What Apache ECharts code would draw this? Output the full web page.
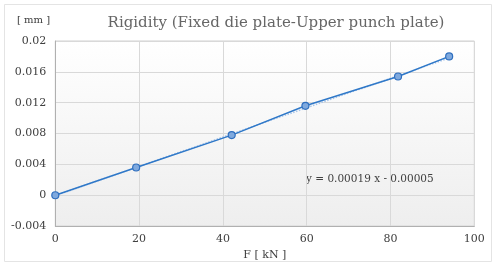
<!DOCTYPE html>
<html><head><meta charset="utf-8">
<script src="https://cdn.jsdelivr.net/npm/echarts@6/dist/echarts.min.js"></script>
<style>html,body{margin:0;padding:0;background:#fff}#c{width:496px;height:266px}</style>
</head><body><div id="c"></div>
<script>
const forceKN = [0, 19.3, 42.1, 59.7, 81.8, 94.0];
const dispMM = [0, 0.0036, 0.0078, 0.0116, 0.0154, 0.0180];
const trendX = [0, 94.0];
const trendY = [-0.00005, 0.01781];
const yTicks = [-0.004, 0, 0.004, 0.008, 0.012, 0.016, 0.02];
const xTicks = [0, 20, 40, 60, 80, 100];
const titleText = 'Rigidity (Fixed die plate-Upper punch plate)';
const yUnit = '[ mm ]';
const xName = 'F [ kN ]';
const eqText = 'y = 0.00019 x - 0.00005';

const font = '"DejaVu Serif", "Liberation Serif", serif';
const chart = echarts.init(document.getElementById('c'), null, {renderer: 'canvas'});
chart.setOption({
  animation: false,
  backgroundColor: '#fff',
  title: {text: titleText, left: 271, top: 11, textAlign: 'center',
    textStyle: {fontFamily: font, fontSize: 15, fontWeight: 'normal', color: '#666666'}},
  grid: {left: 55.3, right: 21.7, top: 41, bottom: 37.3,
    show: true, borderColor: '#d0d0d0', borderWidth: 1,
    backgroundColor: new echarts.graphic.LinearGradient(0,0,0,1,[{offset:0,color:'#ffffff'},{offset:1,color:'#eeeeee'}])},
  graphic: [
    {type: 'rect', shape: {x: 4.5, y: 4.5, width: 487, height: 257}, style: {fill: 'none', stroke: '#e4e4e4', lineWidth: 1}, z: -1},
    {type: 'text', left: 17, top: 15, style: {text: yUnit, font: '10px ' + font, fill: '#404040'}},
    {type: 'text', left: 306, top: 174, style: {text: eqText, font: '10.5px ' + font, fill: '#404040'}}
  ],
  xAxis: {type: 'value', min: 0, max: 100, interval: 20,
    name: xName, nameLocation: 'middle', nameGap: 22,
    nameTextStyle: {fontFamily: font, fontSize: 11, color: '#404040'},
    axisLine: {show: true, onZero: false, lineStyle: {color: '#b0b0b0'}},
    axisTick: {show: false},
    axisLabel: {fontFamily: font, fontSize: 11, color: '#404040', margin: 8,
      formatter: v => xTicks.includes(v) ? String(v) : ''},
    splitLine: {show: true, lineStyle: {color: '#d9d9d9'}}},
  yAxis: {type: 'value', min: -0.004, max: 0.02, interval: 0.004,
    axisLine: {show: true, onZero: false, lineStyle: {color: '#b0b0b0'}},
    axisTick: {show: false},
    axisLabel: {fontFamily: font, fontSize: 11, color: '#404040', margin: 9,
      formatter: v => { const t = yTicks.find(k => Math.abs(k - v) < 1e-9); return t === undefined ? '' : String(t); }},
    splitLine: {show: true, lineStyle: {color: '#d9d9d9'}}},
  series: [
    {type: 'line', data: trendX.map((x, i) => [x, trendY[i]]), symbol: 'none',
      lineStyle: {color: '#a9c6ea', width: 1.5, type: 'dotted'}, z: 1},
    {type: 'line', data: forceKN.map((x, i) => [x, dispMM[i]]),
      symbol: 'circle', symbolSize: 7,
      lineStyle: {color: '#2f78c8', width: 1.5},
      itemStyle: {color: '#7fa9de', borderColor: '#2f6fbf', borderWidth: 1.2}, z: 2}
  ]
});
</script></body></html>
